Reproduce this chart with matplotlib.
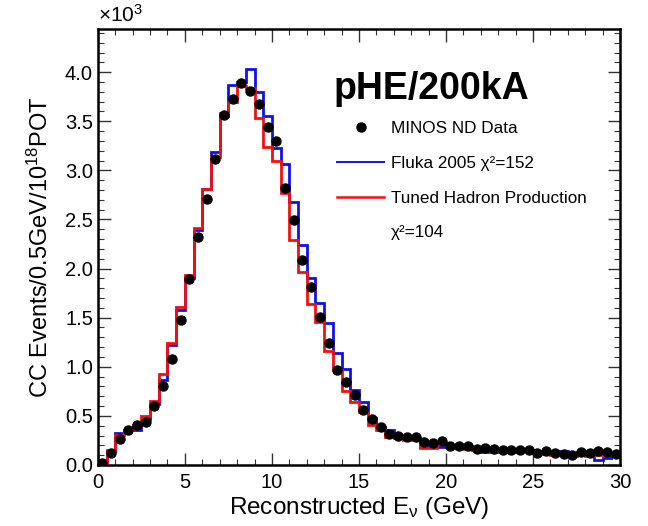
import numpy as np
import matplotlib
matplotlib.use("Agg")
import matplotlib.pyplot as plt
from matplotlib.lines import Line2D
from matplotlib.ticker import MultipleLocator, FormatStrFormatter

plt.rcParams['font.family'] = ['Liberation Sans', 'DejaVu Sans']
plt.rcParams['mathtext.default'] = 'regular'

# 0.5 GeV bins from 0 to 30 GeV, values in units of 10^3 events
edges = np.arange(0, 30.01, 0.5)

data = [0.02, 0.12, 0.26, 0.36, 0.41, 0.44, 0.60, 0.80, 1.08, 1.48,
        1.89, 2.32, 2.71, 3.12, 3.56, 3.73, 3.89, 3.81, 3.68, 3.44,
        3.30, 2.82, 2.49, 2.09, 1.81, 1.51, 1.24, 0.97, 0.84, 0.71,
        0.56, 0.465, 0.39, 0.32, 0.30, 0.28, 0.28, 0.23, 0.22, 0.24,
        0.19, 0.19, 0.19, 0.16, 0.17, 0.16, 0.15, 0.15, 0.15, 0.15,
        0.12, 0.14, 0.12, 0.11, 0.10, 0.13, 0.12, 0.14, 0.13, 0.11]

fluka = [0.02, 0.14, 0.33, 0.36, 0.36, 0.47, 0.62, 0.87, 1.22, 1.58,
         1.90, 2.39, 2.81, 3.19, 3.55, 3.87, 3.90, 4.03, 3.80, 3.55,
         3.23, 3.06, 2.68, 2.24, 1.90, 1.65, 1.45, 1.14, 0.98, 0.76,
         0.64, 0.475, 0.39, 0.36, 0.30, 0.27, 0.27, 0.19, 0.18, 0.18,
         0.20, 0.19, 0.19, 0.15, 0.13, 0.14, 0.15, 0.15, 0.15, 0.15,
         0.14, 0.14, 0.13, 0.14, 0.12, 0.13, 0.13, 0.05, 0.07, 0.10]

tuned = [0.02, 0.15, 0.31, 0.36, 0.41, 0.50, 0.65, 0.93, 1.24, 1.61,
         1.93, 2.41, 2.81, 3.14, 3.58, 3.70, 3.86, 3.84, 3.53, 3.24,
         3.10, 2.77, 2.29, 1.97, 1.64, 1.46, 1.16, 0.97, 0.75, 0.64,
         0.54, 0.41, 0.36, 0.29, 0.27, 0.25, 0.25, 0.17, 0.17, 0.22,
         0.19, 0.17, 0.16, 0.15, 0.15, 0.14, 0.13, 0.13, 0.14, 0.14,
         0.12, 0.11, 0.10, 0.10, 0.09, 0.10, 0.09, 0.10, 0.11, 0.12]

centers = 0.5 * (edges[:-1] + edges[1:])

fig = plt.figure(figsize=(6.48, 5.26), dpi=100)
ax = fig.add_axes([0.151, 0.116, 0.806, 0.829])

ax.stairs(fluka, edges, color='#1010e8', linewidth=2.0, baseline=None, zorder=3)
ax.stairs(tuned, edges, color='#f01010', linewidth=2.0, baseline=None, zorder=4)
ax.plot(centers, data, 'o', color='black', markersize=6.5, zorder=5)

ax.set_xlim(0, 30)
ax.set_ylim(0, 4.44)

ax.xaxis.set_major_locator(MultipleLocator(5))
ax.xaxis.set_minor_locator(MultipleLocator(1))
ax.yaxis.set_major_locator(MultipleLocator(0.5))
ax.yaxis.set_minor_locator(MultipleLocator(0.1))
ax.yaxis.set_major_formatter(FormatStrFormatter('%.1f'))
ax.tick_params(which='both', direction='in', top=True, right=True,
               labelsize=14.5, color='#333333')
ax.tick_params(which='major', length=9, width=1.0)
ax.tick_params(which='minor', length=4.5, width=0.8)
ax.tick_params(axis='x', pad=6)
for s in ax.spines.values():
    s.set_linewidth(1.8)

ax.set_xlabel('Reconstructed E$_{\\nu}$ (GeV)', fontsize=17.5, labelpad=2)
ax.set_ylabel('CC Events/0.5GeV/10$^{18}$POT', fontsize=17, labelpad=9)
ax.text(0.0, 1.008, '\u00d710$^{3}$', transform=ax.transAxes,
        fontsize=15, ha='left', va='bottom')

ax.text(0.452, 0.862, 'pHE/200kA', transform=ax.transAxes,
        fontsize=27, fontweight='bold', ha='left', va='center')

handles = [
    Line2D([], [], marker='o', linestyle='none', color='black', markersize=6.5),
    Line2D([], [], color='#1010e8', linewidth=1.4),
    Line2D([], [], color='#f01010', linewidth=1.8),
    Line2D([], [], linestyle='none'),
]
labels = ['MINOS ND Data', 'Fluka 2005 \u03c7\u00b2=152',
          'Tuned Hadron Production', '\u03c7\u00b2=104']
ax.legend(handles, labels, loc='upper left', bbox_to_anchor=(0.458, 0.788),
          frameon=False, fontsize=12.3, handlelength=2.75, handletextpad=0.4,
          labelspacing=1.15, borderpad=0, borderaxespad=0, numpoints=1)

fig.savefig('out.png', dpi=100)
